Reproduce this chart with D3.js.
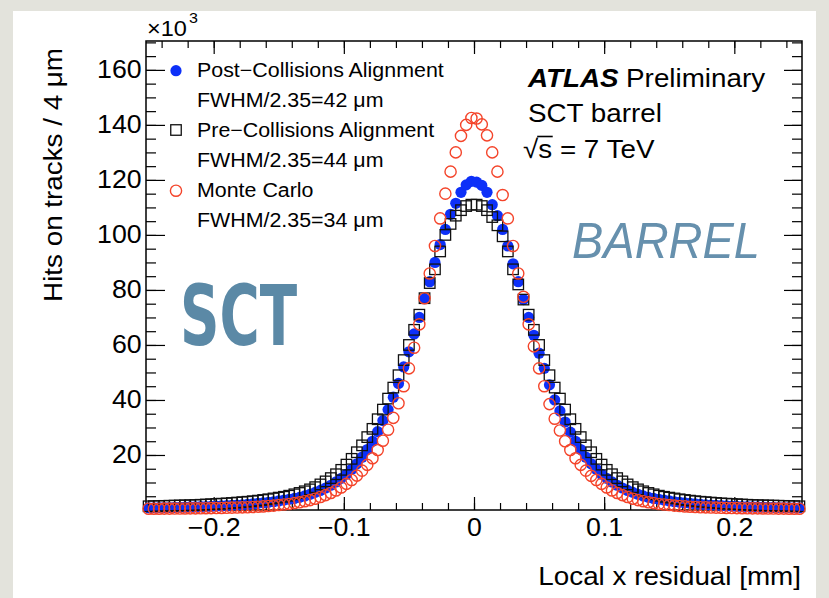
<!DOCTYPE html>
<html>
<head>
<meta charset="utf-8">
<script src="https://cdn.jsdelivr.net/npm/d3@7"></script>
<style>
  html, body { margin: 0; padding: 0; background: #e3e3dc; }
  svg { display: block; }
  text { font-family: "Liberation Sans", Arial, Helvetica, sans-serif; }
</style>
</head>
<body>
<svg id="chart" width="829" height="598"></svg>
<script>
// 4 um bins from -0.252 to 0.252 mm, values in units of 10^3 hits
const binStart = -0.25;
const binWidth = 0.004;
const nBins = 126;
const binCentres = d3.range(nBins).map(i => binStart + binWidth * i);

const postAlign = [
  0.8,0.82,0.85,0.88,0.9,0.95,1.0,1.05,1.1,1.15,1.2,1.25,1.3,1.4,1.5,1.6,1.7,1.8,1.9,2.05,
  2.2,2.4,2.6,2.8,3.0,3.3,3.6,3.9,4.2,4.6,5.1,5.7,6.4,7.1,8.0,9.0,10.2,11.5,13,14.8,
  16.8,19.2,22,25,28.5,32.5,36.5,41,46,52,57.5,64,70,76.8,83,90,96.5,102,107.5,111.5,
  115.5,118.2,119.5,
  119.2,118,115.5,111,107,102,96,89.5,83,76.5,70,63.5,57,51.5,45.5,40,36,32,28.3,25,
  22,19.2,16.8,14.8,13,11.5,10.2,9.0,8.0,7.1,6.4,5.7,5.1,4.6,4.2,3.9,3.6,3.3,3.0,2.8,
  2.6,2.4,2.2,2.05,1.9,1.8,1.7,1.6,1.5,1.4,1.3,1.25,1.2,1.15,1.1,1.05,1.0,0.95,0.9,0.88,
  0.85,0.82,0.8
];

const preAlign = [
  1.35,1.4,1.45,1.5,1.55,1.6,1.65,1.7,1.75,1.8,1.9,2.0,2.1,2.2,2.3,2.4,2.55,2.7,2.85,3.0,
  3.2,3.4,3.65,3.9,4.2,4.5,4.8,5.2,5.7,6.2,6.8,7.5,8.3,9.3,10.4,11.6,13,14.6,16.5,18.6,
  21,23.5,26.5,29.5,33,36.5,40.5,44.5,49,54.5,60,65.5,71,77,82.5,87.5,94,100,104,107,
  109,110.5,111,
  111,110.5,109,106.5,103.5,99.5,94,87.5,82,76.5,71,65.5,60,54.5,49,44.5,40.5,36.5,33,29.5,
  26.5,23.5,21,18.6,16.5,14.6,13,11.6,10.4,9.3,8.3,7.5,6.8,6.2,5.7,5.2,4.8,4.5,4.2,3.9,
  3.65,3.4,3.2,3.0,2.85,2.7,2.55,2.4,2.3,2.2,2.1,2.0,1.9,1.8,1.75,1.7,1.65,1.6,1.55,1.5,
  1.45,1.4,1.35
];

const monteCarlo = [
  0.46,0.47,0.48,0.49,0.5,0.52,0.54,0.56,0.58,0.6,0.62,0.65,0.68,0.7,0.75,0.8,0.85,0.9,0.95,1.0,
  1.1,1.2,1.3,1.45,1.6,1.8,2.0,2.2,2.5,2.8,3.2,3.6,4.1,4.7,5.4,6.2,7.1,8.2,9.5,10.9,
  12.5,14.3,16.4,18.8,21.8,25.2,29.2,33.5,38.8,45,51.5,59,67.5,77,86,96,106,115,123,130,
  136,140,142.5,
  142.3,140.2,136.2,130,123,114.5,106,96,86,77.5,67.5,59.5,51.5,45,38.5,33.2,28.9,25,21.8,18.8,
  16.4,14.3,12.4,10.9,9.5,8.2,7.1,6.2,5.4,4.7,4.1,3.6,3.2,2.8,2.5,2.2,2.0,1.8,1.6,1.45,
  1.3,1.2,1.1,1.0,0.95,0.9,0.85,0.8,0.75,0.7,0.68,0.65,0.62,0.6,0.58,0.56,0.54,0.52,0.5,0.49,
  0.48,0.47,0.46
];

const xMajor = [-0.2, -0.1, 0, 0.1, 0.2];
const xMinor = d3.range(-0.24, 0.2401, 0.02);
const yMajor = [20, 40, 60, 80, 100, 120, 140, 160];
const yMinor = d3.range(0, 171, 5);

const legendLabels = ['Post\u2212Collisions Alignment', 'Pre\u2212Collisions Alignment', 'Monte Carlo'];
const legendWidths = ['FWHM/2.35=42 \u03bcm', 'FWHM/2.35=44 \u03bcm', 'FWHM/2.35=34 \u03bcm'];

const SX = 1.07; // horizontal stretch of the text
const BLUE = '#0d30f8';
const RED = '#f4442a';

const svg = d3.select('#chart');

// white panel on the grey page
svg.append('rect').attr('x', 13).attr('y', 11).attr('width', 803).attr('height', 600).attr('fill', '#fff');

const x = d3.scaleLinear().domain([-0.252, 0.252]).range([146, 802]);
const y = d3.scaleLinear().domain([0, 170.5]).range([510, 41]);

function label(x0, y0, str, size, opts = {}) {
    const g = svg.append('g').attr('transform', `translate(${x0},${y0}) ${opts.rotate ? 'rotate(-90)' : ''} scale(${SX},1)`);
    const t = g.append('text')
        .attr('font-size', size)
        .attr('text-anchor', opts.anchor || 'start')
        .attr('fill', opts.fill || '#000')
        .text(str);
    return { g, t };
}

function styleAxis(g, size) {
    g.select('.domain').remove();
    g.selectAll('line').attr('stroke', '#000').attr('stroke-width', 1.2);
    g.attr('font-size', size);
    g.selectAll('text').attr('fill', '#000').attr('transform', `scale(${SX},1)`);
}

// axes, ticks pointing inward
svg.append('g').attr('transform', 'translate(0,510)')
    .call(d3.axisBottom(x).tickValues(xMinor).tickSize(-7).tickFormat(''))
    .call(g => styleAxis(g, 25));
svg.append('g').attr('transform', 'translate(0,510)')
    .call(d3.axisBottom(x).tickValues(xMajor).tickSize(-13).tickPadding(8)
        .tickFormat(d => d === 0 ? '0' : d3.format('.1f')(d)))
    .call(g => styleAxis(g, 25));
svg.append('g').attr('transform', 'translate(0,41)')
    .call(d3.axisTop(x).tickValues(xMinor).tickSize(-7).tickFormat(''))
    .call(g => styleAxis(g, 25));
svg.append('g').attr('transform', 'translate(0,41)')
    .call(d3.axisTop(x).tickValues(xMajor).tickSize(-13).tickFormat(''))
    .call(g => styleAxis(g, 25));

svg.append('g').attr('transform', 'translate(146,0)')
    .call(d3.axisLeft(y).tickValues(yMinor).tickSize(-10).tickFormat(''))
    .call(g => styleAxis(g, 25));
svg.append('g').attr('transform', 'translate(146,0)')
    .call(d3.axisLeft(y).tickValues(yMajor).tickSize(-19).tickPadding(4))
    .call(g => styleAxis(g, 25));
svg.append('g').attr('transform', 'translate(802,0)')
    .call(d3.axisRight(y).tickValues(yMinor).tickSize(-10).tickFormat(''))
    .call(g => styleAxis(g, 25));
svg.append('g').attr('transform', 'translate(802,0)')
    .call(d3.axisRight(y).tickValues(yMajor).tickSize(-18).tickFormat(''))
    .call(g => styleAxis(g, 25));

svg.append('rect')
    .attr('x', x.range()[0]).attr('y', y.range()[1])
    .attr('width', x.range()[1] - x.range()[0]).attr('height', y.range()[0] - y.range()[1])
    .attr('fill', 'none').attr('stroke', '#000').attr('stroke-width', 1.5);

// big detector labels
svg.append('text').attr('x', 180).attr('y', 345)
    .style('font-family', '"DejaVu Sans", sans-serif')
    .attr('font-size', 84).attr('font-weight', 'bold').attr('fill', '#5b89a6')
    .attr('textLength', 117).attr('lengthAdjust', 'spacingAndGlyphs')
    .text('SCT');
svg.append('text').attr('x', 572).attr('y', 258)
    .attr('font-size', 50).attr('font-style', 'italic').attr('fill', '#6690ad')
    .attr('textLength', 188).attr('lengthAdjust', 'spacingAndGlyphs')
    .text('BARREL');

// markers
function drawCircles(data, r, fill, stroke) {
    svg.append('g').selectAll('circle')
        .data(data)
        .join('circle')
        .attr('cx', (d, i) => x(binCentres[i]))
        .attr('cy', d => y(d))
        .attr('r', r)
        .attr('fill', fill)
        .attr('stroke', stroke)
        .attr('stroke-width', 1.4);
}
function drawSquares(data, s) {
    svg.append('g').selectAll('rect')
        .data(data)
        .join('rect')
        .attr('x', (d, i) => x(binCentres[i]) - s / 2)
        .attr('y', d => y(d) - s / 2)
        .attr('width', s).attr('height', s)
        .attr('fill', 'none')
        .attr('stroke', '#111')
        .attr('stroke-width', 1.3);
}
drawCircles(postAlign, 5.6, BLUE, 'none');
drawSquares(preAlign, 10.5);
drawCircles(monteCarlo, 5.6, 'none', RED);

// legend
const legY = [70.7, 130, 190.7];
svg.append('circle').attr('cx', 176).attr('cy', legY[0]).attr('r', 5.6).attr('fill', BLUE);
svg.append('rect').attr('x', 176 - 5.25).attr('y', legY[1] - 5.25).attr('width', 10.5).attr('height', 10.5)
    .attr('fill', 'none').attr('stroke', '#111').attr('stroke-width', 1.3);
svg.append('circle').attr('cx', 176).attr('cy', legY[2]).attr('r', 5.6).attr('fill', 'none')
    .attr('stroke', RED).attr('stroke-width', 1.4);
const legBase = [77, 137, 197];
legendLabels.forEach((s, i) => {
    label(197, legBase[i], s, 20);
    label(197, legBase[i] + 29.5, legendWidths[i], 20);
});

// ATLAS block
const atlas = label(528, 87, '', 26);
atlas.t.append('tspan').attr('font-weight', 'bold').attr('font-style', 'italic').text('ATLAS');
atlas.t.append('tspan').attr('dx', 7).text('Preliminary');
label(528, 121.7, 'SCT barrel', 26);
const rs = label(523, 158, '\u221as = 7 TeV', 26);
const n = rs.t.node();
const w0 = n.getSubStringLength(0, 1);
const w1 = n.getSubStringLength(1, 1);
rs.g.append('line').attr('x1', w0 - 1).attr('x2', w0 + w1 + 0.5)
    .attr('y1', -21.5).attr('y2', -21.5).attr('stroke', '#000').attr('stroke-width', 1.6);

// axis titles
label(801, 585, 'Local x residual [mm]', 26, { anchor: 'end' });
label(62, 48, 'Hits on tracks / 4 \u03bcm', 26, { anchor: 'end', rotate: true });
label(147, 36, '\u00d710', 22);
label(189, 23, '3', 15);
</script>
</body>
</html>
